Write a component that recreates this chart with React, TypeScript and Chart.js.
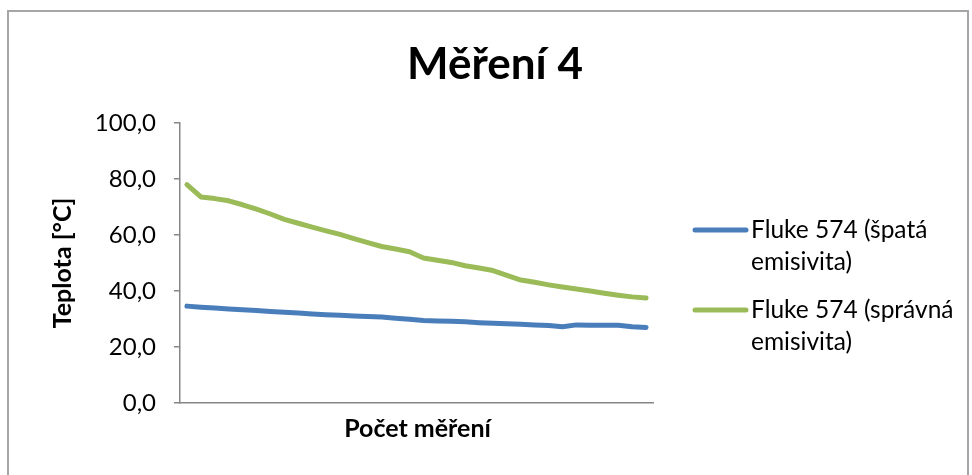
import React, { useEffect, useRef } from "react";
import { Chart, registerables } from "chart.js";

Chart.register(...registerables);

// Measurement index (no labels shown on the x axis)
const measurements: number[] = Array.from({ length: 34 }, (_, i) => i + 1);

// Fluke 574 readings with the wrong emissivity setting [°C]
const flukeWrong: number[] = [
  34.6, 34.2, 33.9, 33.6, 33.3, 33.0, 32.7, 32.4, 32.1, 31.8,
  31.5, 31.3, 31.1, 30.9, 30.7, 30.3, 29.9, 29.5, 29.3, 29.2,
  29.0, 28.7, 28.5, 28.3, 28.1, 27.9, 27.7, 27.2, 27.9, 27.8,
  27.8, 27.8, 27.2, 27.0,
];

// Fluke 574 readings with the correct emissivity setting [°C]
const flukeCorrect: number[] = [
  78.0, 73.6, 73.0, 72.2, 70.8, 69.2, 67.5, 65.6, 64.2, 62.8,
  61.5, 60.2, 58.7, 57.3, 55.9, 55.0, 54.0, 51.8, 51.0, 50.2,
  49.0, 48.2, 47.3, 45.6, 43.9, 43.1, 42.2, 41.4, 40.7, 40.0,
  39.2, 38.5, 37.9, 37.5,
];

const seriesNames: string[][] = [
  ["Fluke 574 (špatá", "emisivita)"],
  ["Fluke 574 (správná", "emisivita)"],
];
const seriesColors: string[] = ["#4A7EBB", "#9BBB59"];

const chartTitle = "Měření 4";
const yTitle = "Teplota [°C]";
const xTitle = "Počet měření";

const FONT = "Lato, 'Noto Sans', sans-serif";

// Draws the frame, title, axis titles and the two-line legend
const decorations = {
  id: "decorations",
  afterDraw(chart: Chart) {
    const ctx = chart.ctx;
    const area = chart.chartArea;
    ctx.save();

    // outer frame
    ctx.strokeStyle = "#a6a6a6";
    ctx.lineWidth = 2;
    ctx.strokeRect(8, 11, 960, 500);

    ctx.fillStyle = "#000";

    // title
    ctx.font = `bold 44px ${FONT}`;
    ctx.textAlign = "center";
    ctx.textBaseline = "alphabetic";
    ctx.fillText(chartTitle, 495, 79);

    // x axis title
    ctx.font = `bold 25px ${FONT}`;
    ctx.fillText(xTitle, (area.left + area.right) / 2 + 1, 437);

    // y axis title
    ctx.save();
    ctx.translate(71, (area.top + area.bottom) / 2);
    ctx.rotate(-Math.PI / 2);
    ctx.fillText(yTitle, 0, 0);
    ctx.restore();

    // legend
    ctx.font = `24.5px ${FONT}`;
    ctx.textAlign = "left";
    ctx.textBaseline = "middle";
    const itemTops = [230, 310];
    chart.data.datasets.forEach((ds, i) => {
      const y = itemTops[i];
      ctx.strokeStyle = ds.borderColor as string;
      ctx.lineWidth = 5;
      ctx.lineCap = "round";
      ctx.beginPath();
      ctx.moveTo(695, y);
      ctx.lineTo(746, y);
      ctx.stroke();
      seriesNames[i].forEach((line, j) => {
        ctx.fillText(line, 751, y + j * 32);
      });
    });

    ctx.restore();
  },
};

export default function App() {
  const canvasRef = useRef<HTMLCanvasElement | null>(null);

  useEffect(() => {
    if (!canvasRef.current) return;
    const chart = new Chart(canvasRef.current, {
      type: "line",
      data: {
        labels: measurements,
        datasets: [
          {
            label: seriesNames[0].join(" "),
            data: flukeWrong,
            borderColor: seriesColors[0],
            backgroundColor: seriesColors[0],
            borderWidth: 5,
            pointRadius: 0,
            tension: 0,
            borderCapStyle: "round",
            borderJoinStyle: "round",
          },
          {
            label: seriesNames[1].join(" "),
            data: flukeCorrect,
            borderColor: seriesColors[1],
            backgroundColor: seriesColors[1],
            borderWidth: 5,
            pointRadius: 0,
            tension: 0,
            borderCapStyle: "round",
            borderJoinStyle: "round",
          },
        ],
      },
      options: {
        responsive: false,
        animation: false,
        devicePixelRatio: 1,
        layout: { padding: { top: 123, right: 319, bottom: 0, left: 0 } },
        plugins: {
          legend: { display: false },
          title: { display: false },
          tooltip: { enabled: false },
        },
        scales: {
          x: {
            type: "category",
            offset: true,
            grid: { display: false },
            border: { display: true, color: "#868686", width: 1.5 },
            ticks: { display: false },
            afterFit: (scale: any) => {
              scale.height = 72;
            },
          },
          y: {
            min: 0,
            max: 100,
            ticks: {
              stepSize: 20,
              padding: 18,
              color: "#000",
              font: { family: FONT, size: 24 },
              callback: (v: any) => Number(v).toFixed(1).replace(".", ","),
            },
            grid: {
              drawOnChartArea: false,
              drawTicks: true,
              tickLength: 6,
              color: "#868686",
              lineWidth: 1.5,
            },
            border: { display: true, color: "#868686", width: 1.5 },
            afterFit: (scale: any) => {
              scale.width = 180;
            },
          },
        },
      },
      plugins: [decorations],
    });
    return () => chart.destroy();
  }, []);

  return (
    <div style={{ position: "fixed", left: 0, top: 0, width: 972, height: 475, background: "#fff" }}>
      <canvas ref={canvasRef} width={972} height={475} />
    </div>
  );
}
